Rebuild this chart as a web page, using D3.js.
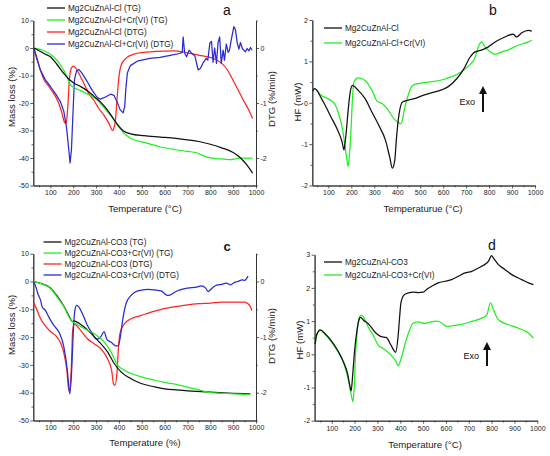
<!DOCTYPE html>
<html><head><meta charset="utf-8">
<script src="https://cdn.jsdelivr.net/npm/d3@7"></script>
<style>
body{margin:0;background:#fff;}
svg{display:block;font-family:"Liberation Sans",Arial,sans-serif;}
.tick text{font-size:7px;fill:#222;}
.domain{stroke:#333;stroke-width:0.9;}
.tick line{stroke:#333;stroke-width:0.8;}
</style></head><body>
<svg id="c" width="550" height="456"></svg>
<script>
// ---------- Panel a : TG / DTG of Mg2CuZnAl-Cl ----------
const aTgCl = [[27,0],[50,-1],[71,-2],[100,-3.2],[129,-6],[158,-9.2],[180,-11.3],[202,-12.7],[232,-14.0],[261,-15.5],[290,-17.5],[319,-19.6],[349,-22.5],[378,-26],[400,-28.5],[422,-30.3],[451,-31.2],[509,-31.9],[582,-32.4],[650,-32.9],[700,-33.4],[750,-34],[800,-35],[850,-36.3],[900,-38],[930,-39.8],[960,-42.5],[985,-45.5]];
const aTgClCr = [[27,0],[50,-0.4],[71,-1.0],[100,-2.3],[129,-4.5],[158,-8.1],[173,-10.5],[188,-13.5],[210,-14.7],[232,-15.5],[261,-16.7],[290,-17.9],[319,-20.1],[349,-23.1],[378,-26.1],[400,-28.8],[422,-31],[451,-32.8],[509,-34.3],[582,-36],[650,-37],[700,-37.6],[740,-38.1],[760,-38.8],[790,-39.8],[820,-40.2],[860,-40.4],[890,-40.6],[910,-40.3],[930,-40],[960,-40],[985,-40]];
const aDtgCl = [[27,0],[42,-0.19],[56,-0.40],[71,-0.57],[93,-0.70],[115,-0.83],[137,-1.01],[151,-1.19],[163,-1.36],[169,-1.37],[176,-1.07],[183,-0.58],[191,-0.37],[200,-0.33],[210,-0.36],[224,-0.46],[246,-0.64],[268,-0.83],[290,-0.95],[312,-1.10],[334,-1.22],[356,-1.37],[372,-1.5],[378,-1.46],[385,-1.3],[392,-0.9],[400,-0.52],[410,-0.31],[430,-0.19],[465,-0.11],[510,-0.08],[580,-0.06],[640,-0.05],[700,-0.09],[760,-0.14],[815,-0.19],[850,-0.28],[875,-0.4],[895,-0.55],[920,-0.75],[945,-0.95],[965,-1.1],[985,-1.28]];
const aDtgClCr = [[27,0],[42,-0.22],[56,-0.40],[78,-0.58],[100,-0.70],[122,-0.83],[144,-0.98],[159,-1.16],[170,-1.43],[179,-1.79],[186,-2.09],[192,-1.85],[198,-1.25],[205,-0.58],[214,-0.42],[224,-0.39],[239,-0.46],[261,-0.61],[283,-0.77],[305,-0.90],[319,-0.93],[341,-0.89],[363,-0.84],[378,-0.86],[392,-0.98],[405,-1.12],[418,-1.18],[425,-1.07],[430,-0.75],[437,-0.45],[450,-0.32],[480,-0.24],[535,-0.19],[580,-0.17],[630,-0.13],[666,-0.10],[677,-0.08],[681,0.20],[688,-0.10],[696,-0.16],[707,-0.04],[717,-0.09],[732,-0.14],[747,-0.40],[757,-0.37],[767,-0.28],[782,-0.19],[789,-0.22],[798,0.09],[805,0.12],[812,-0.26],[819,0.0],[827,-0.28],[834,0.1],[841,0.2],[848,-0.28],[856,-0.04],[862,-0.22],[870,0.07],[878,-0.08],[884,-0.04],[890,0.11],[896,0.24],[903,0.39],[910,0.33],[918,0.09],[925,-0.02],[932,0.1],[940,-0.01],[947,-0.04],[954,-0.07],[961,-0.01],[969,-0.05],[976,0.01],[983,-0.04]];
const aLegend = ["Mg2CuZnAl-Cl (TG)","Mg2CuZnAl-Cl+Cr(VI) (TG)","Mg2CuZnAl-Cl (DTG)","Mg2CuZnAl-Cl+Cr(VI) (DTG)"];

// ---------- Panel b : DSC Cl ----------
const bHfCl = [[32,0.28],[38,0.34],[50,0.3],[65,0.15],[82,-0.02],[112,-0.35],[141,-0.67],[160,-0.95],[168,-1.14],[172,-1.0],[178,-0.7],[186,-0.19],[195,0.25],[204,0.42],[230,0.3],[260,0.1],[290,-0.23],[320,-0.55],[349,-0.91],[367,-1.31],[379,-1.58],[389,-1.4],[397,-0.83],[408,-0.27],[423,0.02],[452,0.07],[482,0.11],[512,0.18],[549,0.24],[593,0.31],[622,0.39],[659,0.58],[688,0.8],[717,1.1],[739,1.23],[767,1.27],[797,1.35],[826,1.47],[869,1.59],[905,1.66],[913,1.62],[920,1.59],[942,1.69],[971,1.75],[986,1.73]];
const bHfClCr = [[32,0.3],[40,0.34],[50,0.3],[68,0.18],[97,0.1],[127,-0.02],[149,-0.35],[162,-0.65],[171,-0.99],[180,-1.35],[186,-1.54],[191,-1.3],[197,-0.83],[204,0.0],[211,0.5],[230,0.6],[260,0.54],[290,0.3],[312,0.04],[334,-0.02],[356,-0.14],[386,-0.39],[405,-0.48],[416,-0.51],[423,-0.4],[430,-0.19],[445,0.14],[467,0.42],[497,0.47],[535,0.5],[593,0.55],[637,0.63],[680,0.75],[709,0.88],[738,1.08],[753,1.35],[767,1.47],[782,1.35],[804,1.23],[826,1.17],[855,1.23],[884,1.28],[927,1.39],[971,1.47],[986,1.51]];
const bLegend = ["Mg2CuZnAl-Cl","Mg2CuZnAl-Cl+Cr(VI)"];

// ---------- Panel c : TG / DTG of Mg2CuZnAl-CO3 ----------
const cTgCo3 = [[27,0],[57,-0.7],[100,-2.3],[129,-5.2],[159,-8.9],[181,-12.4],[196,-14.4],[203,-14.2],[225,-15.0],[262,-17.4],[306,-21.1],[350,-25.3],[379,-29.5],[409,-32.5],[438,-34.3],[497,-36.7],[556,-37.9],[600,-38.6],[650,-39.0],[700,-39.3],[800,-39.8],[900,-40.2],[975,-40.4]];
const cTgCo3Cr = [[27,0],[57,-0.7],[100,-2.5],[129,-5.5],[159,-9.1],[181,-12.7],[196,-14.5],[210,-15.1],[247,-16.9],[291,-18.7],[335,-21.7],[365,-25.3],[394,-30.1],[424,-31.9],[453,-33.1],[497,-34.3],[556,-35.5],[600,-36.3],[650,-37],[700,-38],[750,-39],[800,-40],[850,-40.2],[900,-40.4],[975,-40.6]];
const cDtgCo3 = [[27,-0.38],[40,-0.5],[57,-0.67],[78,-0.8],[100,-0.9],[122,-0.97],[144,-1.1],[159,-1.29],[172,-1.6],[181,-1.97],[186,-1.9],[192,-1.5],[197,-0.9],[203,-0.76],[232,-0.88],[262,-1.03],[291,-1.12],[321,-1.21],[350,-1.39],[368,-1.6],[376,-1.84],[382,-1.87],[391,-1.66],[397,-1.24],[404,-0.94],[424,-0.76],[453,-0.67],[497,-0.61],[541,-0.55],[585,-0.5],[650,-0.45],[700,-0.42],[750,-0.4],[800,-0.39],[850,-0.37],[900,-0.37],[950,-0.37],[965,-0.4],[975,-0.45],[982,-0.52]];
const cDtgCo3Cr = [[27,0],[38,-0.12],[45,-0.22],[57,-0.34],[64,-0.46],[78,-0.52],[93,-0.64],[115,-0.79],[137,-0.91],[159,-1.18],[174,-1.6],[185,-2.02],[193,-1.6],[199,-1.0],[207,-0.52],[215,-0.43],[225,-0.46],[240,-0.58],[262,-0.79],[284,-0.94],[299,-1.03],[309,-1.03],[321,-0.99],[335,-0.9],[347,-1.04],[365,-1.09],[387,-1.16],[397,-1.16],[406,-1.0],[416,-0.7],[431,-0.4],[453,-0.25],[482,-0.17],[526,-0.14],[585,-0.17],[600,-0.22],[612,-0.25],[625,-0.24],[650,-0.18],[700,-0.12],[740,-0.1],[760,-0.08],[780,-0.12],[790,-0.18],[800,-0.15],[820,-0.08],[850,-0.05],[870,-0.03],[890,-0.06],[900,-0.03],[920,0],[940,0.03],[950,0.02],[960,0.06],[965,0.1]];
const cLegend = ["Mg2CuZnAl-CO3 (TG)","Mg2CuZnAl-CO3+Cr(VI) (TG)","Mg2CuZnAl-CO3 (DTG)","Mg2CuZnAl-CO3+Cr(VI) (DTG)"];

// ---------- Panel d : DSC CO3 ----------
const dHfCo3 = [[27,0.3],[34,0.59],[50,0.73],[71,0.62],[96,0.43],[125,0.13],[154,-0.27],[170,-0.6],[178,-0.9],[185,-1.1],[192,-0.6],[200,0.1],[210,0.7],[220,1.05],[226,1.11],[240,1.02],[259,0.93],[288,0.68],[317,0.53],[338,0.51],[359,0.28],[372,0.12],[380,0.06],[390,0.5],[397,1.1],[403,1.55],[417,1.79],[432,1.84],[460,1.87],[480,1.86],[500,1.87],[518,1.97],[538,2.05],[567,2.15],[596,2.2],[625,2.25],[654,2.35],[684,2.45],[713,2.5],[742,2.6],[764,2.68],[786,2.8],[800,2.97],[808,2.9],[830,2.7],[859,2.55],[888,2.4],[932,2.25],[961,2.15],[983,2.1]];
const dHfCo3Cr = [[27,0.29],[38,0.65],[50,0.74],[71,0.6],[96,0.4],[125,0.1],[154,-0.3],[172,-0.75],[185,-1.2],[193,-1.43],[199,-0.9],[205,0.1],[212,0.7],[220,1.1],[229,1.18],[245,1.05],[259,0.83],[281,0.58],[303,0.28],[325,0.18],[359,-0.02],[380,-0.2],[391,-0.34],[405,-0.1],[426,0.43],[445,0.8],[455,0.93],[477,0.98],[506,0.93],[535,0.98],[560,1.0],[580,0.95],[603,0.84],[625,0.86],[669,0.9],[713,0.99],[757,1.09],[778,1.17],[795,1.55],[808,1.34],[830,1.04],[874,0.89],[917,0.79],[961,0.64],[983,0.49]];
const dLegend = ["Mg2CuZnAl-CO3","Mg2CuZnAl-CO3+Cr(VI)"];

const xTicks = [100,200,300,400,500,600,700,800,900,1000];
const xMinor = [50,150,250,350,450,550,650,750,850,950];
const massTicks = [10,0,-10,-20,-30,-40,-50];
const massMinor = [5,-5,-15,-25,-35,-45];
const dtgTicks = [0,-1,-2];
const dtgMinor = [0.5,-0.5,-1.5,-2.5];
const hfTicksB = [2,1,0,-1,-2];
const hfMinorB = [1.5,0.5,-0.5,-1.5];
const hfTicksD = [3,2,1,0,-1,-2];
const hfMinorD = [2.5,1.5,0.5,-0.5,-1.5];

const C = {black:"#111111", green:"#22ee22", red:"#ff2424", blue:"#2a2ad6"};
const svg = d3.select("#c");
const fmt = d => String(d);

function axes(g, x, y, yT, yM, y2, y2T, y2M, xBot, xL, xR){
  g.append("g").attr("transform",`translate(0,${xBot})`).call(d3.axisBottom(x).tickValues(xMinor).tickSize(1.8).tickFormat("").tickSizeOuter(0));
  g.append("g").attr("transform",`translate(0,${xBot})`).call(d3.axisBottom(x).tickValues(xTicks).tickSize(3).tickPadding(2).tickFormat(fmt).tickSizeOuter(0));
  g.append("g").attr("transform",`translate(${xL},0)`).call(d3.axisLeft(y).tickValues(yM).tickSize(1.8).tickFormat("").tickSizeOuter(0));
  g.append("g").attr("transform",`translate(${xL},0)`).call(d3.axisLeft(y).tickValues(yT).tickSize(3).tickPadding(1.5).tickFormat(fmt).tickSizeOuter(0));
  if(y2){
    g.append("g").attr("transform",`translate(${xR},0)`).call(d3.axisRight(y2).tickValues(y2M).tickSize(1.8).tickFormat("").tickSizeOuter(0));
    g.append("g").attr("transform",`translate(${xR},0)`).call(d3.axisRight(y2).tickValues(y2T).tickSize(3).tickPadding(1.5).tickFormat(fmt).tickSizeOuter(0));
  }
}
function line(g, data, x, y, color, curve){
  g.append("path").datum(data).attr("fill","none").attr("stroke",color).attr("stroke-width",1.25)
   .attr("stroke-linejoin","round")
   .attr("d", d3.line().x(d=>x(d[0])).y(d=>y(d[1])).curve(curve||d3.curveMonotoneX));
}
function legend(g, items, colors, x0, ys, fs){
  items.forEach((t,i)=>{
    g.append("line").attr("x1",x0).attr("x2",x0+18).attr("y1",ys[i]).attr("y2",ys[i]).attr("stroke",colors[i]).attr("stroke-width",1.3);
    g.append("text").attr("x",x0+21).attr("y",ys[i]).attr("dy","0.35em").attr("font-size",fs).attr("fill","#222").text(t);
  });
}
function title(g, x, y, t, rot, fs){
  g.append("text").attr("transform",`translate(${x},${y})${rot?" rotate(-90)":""}`).attr("text-anchor","middle")
   .attr("dy","0.35em").attr("font-size",fs||10).attr("fill","#222").text(t);
}

// ---- Panel a
{
  const g = svg.append("g");
  const x = d3.scaleLinear().domain([25,1000]).range([33.3,256]);
  const y = d3.scaleLinear().domain([-50,10]).range([185.5,20.5]);
  const y2 = d3.scaleLinear().domain([-2.5,0.5]).range([185.5,20.5]);
  axes(g,x,y,massTicks,massMinor,y2,dtgTicks,dtgMinor,185.5,33.3,256);
  line(g,aDtgCl,x,y2,C.red);
  line(g,aDtgClCr,x,y2,C.blue,d3.curveLinear);
  line(g,aTgClCr,x,y,C.green);
  line(g,aTgCl,x,y,C.black);
  legend(g,aLegend,[C.black,C.green,C.red,C.blue],47,[8,20,32,44],8.2);
  title(g,145,209,"Temperature (°C)",false,9.6);
  title(g,12,97,"Mass loss (%)",true,9.6);
  title(g,272,99,"DTG (%/min)",true,9.6);
  g.append("text").attr("x",227).attr("y",15).attr("text-anchor","middle").attr("font-size",14).attr("fill","#111").text("a");
}
// ---- Panel b
{
  const g = svg.append("g");
  const x = d3.scaleLinear().domain([30,1000]).range([312.3,535]);
  const y = d3.scaleLinear().domain([-2,2]).range([185.5,20]);
  axes(g,x,y,hfTicksB,hfMinorB,null,null,null,185.5,312.3,535);
  line(g,bHfClCr,x,y,C.green);
  line(g,bHfCl,x,y,C.black);
  legend(g,bLegend,[C.black,C.green],324,[28,43],8.2);
  title(g,423,209,"Temperaturue (°C)",false,9.6);
  title(g,298,102,"HF (mW)",true,9.6);
  g.append("text").attr("x",493).attr("y",15).attr("text-anchor","middle").attr("font-size",14).attr("fill","#111").text("b");
  g.append("text").attr("x",483).attr("y",102).attr("dx",-8).attr("text-anchor","end").attr("dy","0.35em").attr("font-size",9).attr("fill","#111").text("Exo");
  g.append("line").attr("x1",483).attr("x2",483).attr("y1",112).attr("y2",93).attr("stroke","#111").attr("stroke-width",2);
  g.append("path").attr("d","M479,94 L483,86 L487,94 Z").attr("fill","#111");
}
// ---- Panel c
{
  const g = svg.append("g");
  const x = d3.scaleLinear().domain([25,1000]).range([33.3,256]);
  const y = d3.scaleLinear().domain([-50,10]).range([420.5,253.7]);
  const y2 = d3.scaleLinear().domain([-2.5,0.5]).range([420.5,253.7]);
  axes(g,x,y,massTicks,massMinor,y2,dtgTicks,dtgMinor,420.5,33.3,256);
  line(g,cDtgCo3,x,y2,C.red);
  line(g,cDtgCo3Cr,x,y2,C.blue);
  line(g,cTgCo3,x,y,C.black);
  line(g,cTgCo3Cr,x,y,C.green);
  legend(g,cLegend,[C.black,C.green,C.red,C.blue],43.5,[242,253,264,275],8.2);
  title(g,145,443,"Temperature (%)",false,9.6);
  title(g,12,325,"Mass loss (%)",true,9.6);
  title(g,272,336,"DTG (%/min)",true,9.6);
  g.append("text").attr("x",227).attr("y",251).attr("text-anchor","middle").attr("font-size",13).attr("font-weight","bold").attr("fill","#111").text("c");
}
// ---- Panel d
{
  const g = svg.append("g");
  const x = d3.scaleLinear().domain([25,1000]).range([314.6,537.3]);
  const y = d3.scaleLinear().domain([-2,3]).range([420.7,254.7]);
  axes(g,x,y,hfTicksD,hfMinorD,null,null,null,420.7,314.6,537.3);
  line(g,dHfCo3Cr,x,y,C.green);
  line(g,dHfCo3,x,y,C.black);
  legend(g,dLegend,[C.black,C.green],324,[262,275],8.2);
  title(g,425,445,"Temperature (°C)",false,9.6);
  title(g,300,340,"HF (mW)",true,9.6);
  g.append("text").attr("x",492).attr("y",250).attr("text-anchor","middle").attr("font-size",14).attr("fill","#111").text("d");
  g.append("text").attr("x",487).attr("y",356).attr("dx",-8).attr("text-anchor","end").attr("dy","0.35em").attr("font-size",9).attr("fill","#111").text("Exo");
  g.append("line").attr("x1",487).attr("x2",487).attr("y1",366).attr("y2",349).attr("stroke","#111").attr("stroke-width",2);
  g.append("path").attr("d","M483,350 L487,342 L491,350 Z").attr("fill","#111");
}
</script></body></html>
